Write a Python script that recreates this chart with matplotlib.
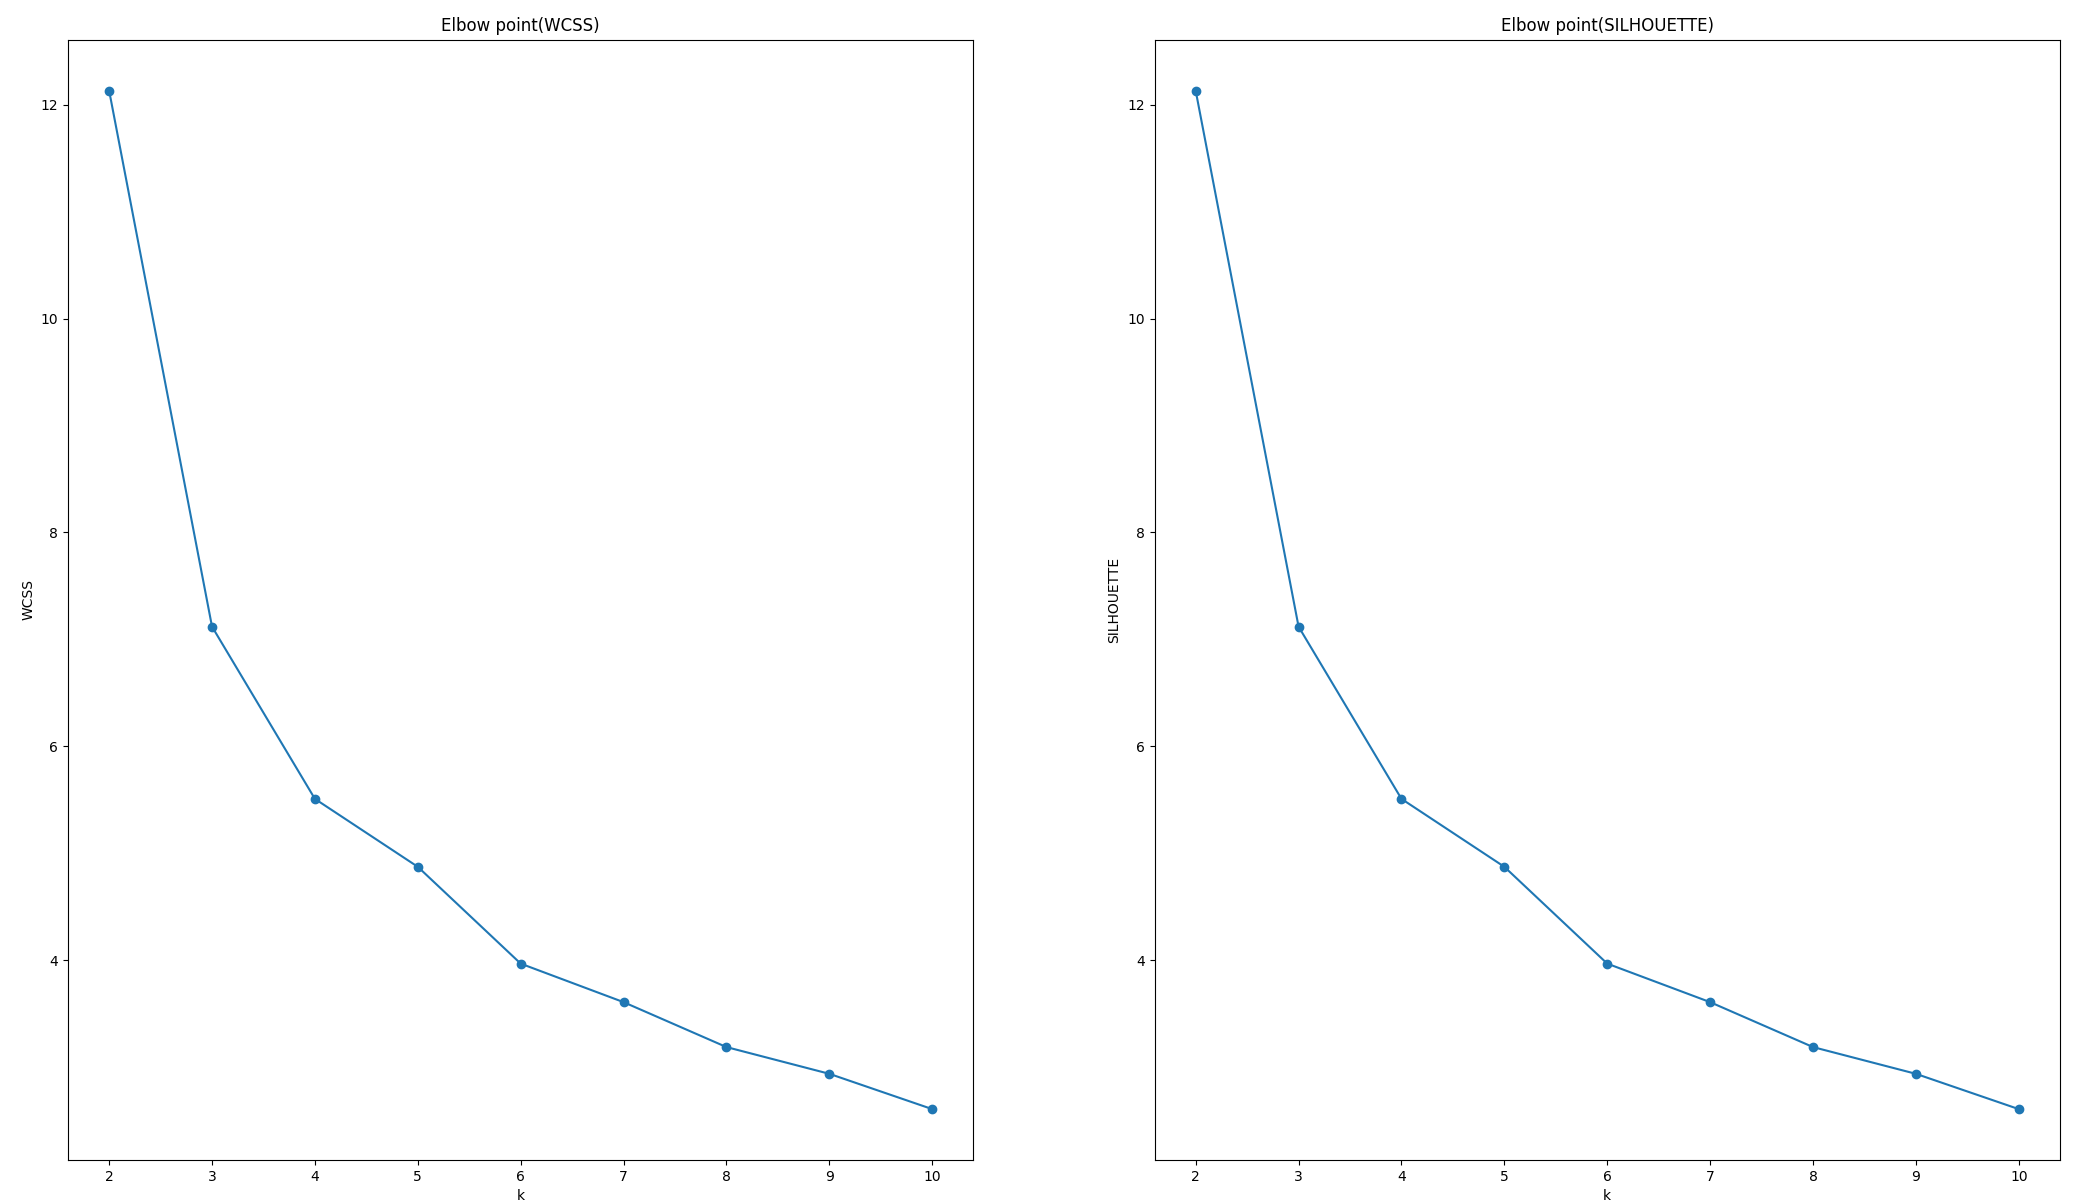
import matplotlib
matplotlib.use('Agg')
import matplotlib.pyplot as plt

k_values = [2, 3, 4, 5, 6, 7, 8, 9, 10]
wcss = [12.13, 7.12, 5.51, 4.875, 3.97, 3.61, 3.19, 2.94, 2.61]
silhouette = [12.13, 7.12, 5.51, 4.875, 3.97, 3.61, 3.19, 2.94, 2.61]

fig, axes = plt.subplots(1, 2, figsize=(20.85, 12.04), dpi=100)
fig.subplots_adjust(left=0.0326, right=0.988, top=0.967, bottom=0.0365, wspace=0.2)

# left: wcss
axes[0].plot(k_values, wcss, marker='o')
axes[0].set_title('Elbow point(WCSS)')
axes[0].set_xlabel('k')
axes[0].set_ylabel('WCSS')

# right: silhouette
axes[1].plot(k_values, silhouette, marker='o')
axes[1].set_title('Elbow point(SILHOUETTE)')
axes[1].set_xlabel('k')
axes[1].set_ylabel('SILHOUETTE')

fig.savefig('out.png')
